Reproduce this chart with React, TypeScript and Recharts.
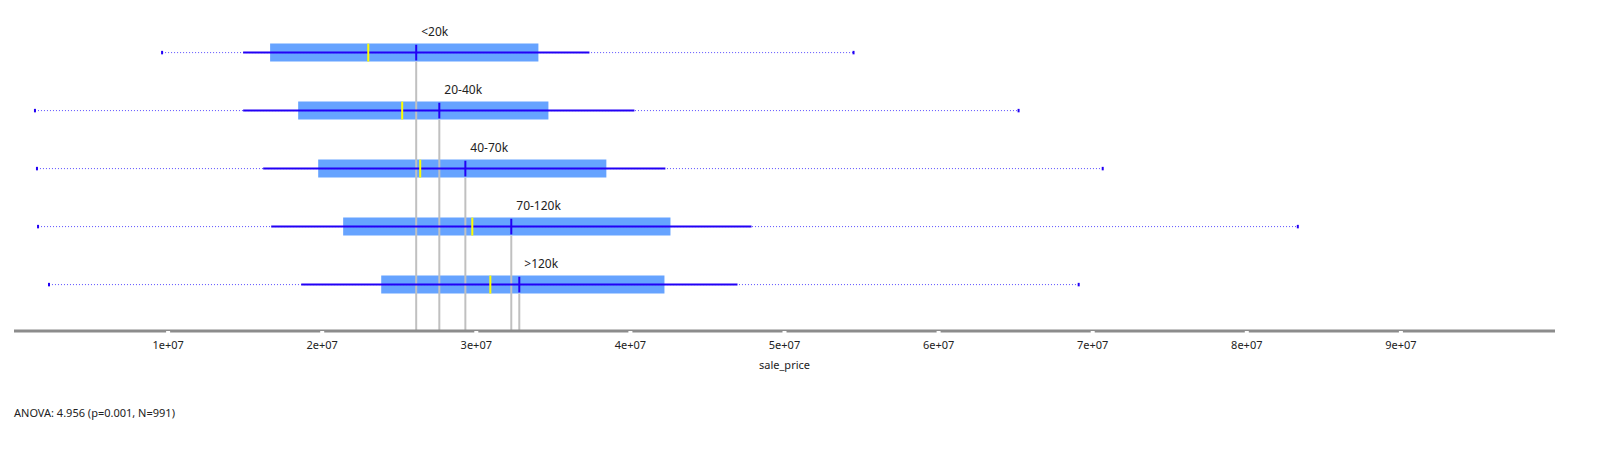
import React from "react";
import {
  ComposedChart,
  XAxis,
  YAxis,
  Scatter,
  ReferenceArea,
  ReferenceLine,
} from "recharts";

const groups = ["<20k", "20-40k", "40-70k", "70-120k", ">120k"];
const rowPos = [4.8, 3.8, 2.8, 1.8, 0.8];
const minVals = [0.961e7, 0.136e7, 0.149e7, 0.156e7, 0.227e7];
const loVals = [1.487e7, 1.487e7, 1.617e7, 1.669e7, 1.864e7];
const q1Vals = [1.662e7, 1.844e7, 1.974e7, 2.136e7, 2.383e7];
const meanVals = [2.299e7, 2.519e7, 2.636e7, 2.974e7, 3.091e7];
const medianVals = [2.61e7, 2.76e7, 2.929e7, 3.227e7, 3.279e7];
const q3Vals = [3.403e7, 3.468e7, 3.844e7, 4.26e7, 4.221e7];
const hiVals = [3.734e7, 4.026e7, 4.227e7, 4.786e7, 4.695e7];
const maxVals = [5.448e7, 6.519e7, 7.065e7, 8.331e7, 6.909e7];
const xTicks = [1e7, 2e7, 3e7, 4e7, 5e7, 6e7, 7e7, 8e7, 9e7];

const labelData = groups.map((g, i) => ({ name: g, median: medianVals[i], row: rowPos[i] }));

const BOX = 0.155;
const fmt = (v: number) => `${v / 1e7}e+07`;

const LabelShape = (props: any) => (
  <text x={props.cx + 5} y={props.cy - 17} fontSize={12} fill="#222" fontFamily="Noto Sans, sans-serif">
    {props.payload.name}
  </text>
);

export default function App() {
  return (
    <div style={{ position: "relative", width: 1607, height: 453 }}>
      <ComposedChart
        width={1607}
        height={460}
        data={labelData}
        margin={{ top: 4, right: 60, bottom: 0, left: 6 }}
      >
        <XAxis
          type="number"
          dataKey="median"
          domain={[0, 1e8]}
          ticks={xTicks}
          tickFormatter={fmt}
          axisLine={{ stroke: "#8c8c8c", strokeWidth: 3 }}
          tickLine={{ stroke: "#ffffff", strokeWidth: 4 }}
          tickSize={2}
          tick={{ fontSize: 11, fill: "#222", fontFamily: "Noto Sans, sans-serif", dy: 6 }}
          height={137}
          label={{ value: "sale_price", position: "insideTop", offset: 30, fontSize: 11, fill: "#222", fontFamily: "Noto Sans, sans-serif" }}
        />
        <YAxis type="number" dataKey="row" domain={[0, 5.5]} hide />
        {groups.map((g, i) => (
          <ReferenceArea
            key={`box-${g}`}
            x1={q1Vals[i]}
            x2={q3Vals[i]}
            y1={rowPos[i] - BOX}
            y2={rowPos[i] + BOX}
            fill="#66a3ff"
            fillOpacity={1}
            stroke="none"
          />
        ))}
        {groups.map((g, i) => (
          <ReferenceLine
            key={`gray-${g}`}
            segment={[{ x: medianVals[i], y: 0 }, { x: medianVals[i], y: rowPos[i] - BOX }]}
            stroke="#c0c0c0"
            strokeWidth={2}
          />
        ))}
        {groups.map((g, i) => (
          <ReferenceLine
            key={`dot-${g}`}
            segment={[{ x: minVals[i], y: rowPos[i] }, { x: maxVals[i], y: rowPos[i] }]}
            stroke="#5a4dff"
            strokeWidth={1}
            strokeDasharray="1 2"
          />
        ))}
        {groups.map((g, i) => (
          <ReferenceLine
            key={`sd-${g}`}
            segment={[{ x: loVals[i], y: rowPos[i] }, { x: hiVals[i], y: rowPos[i] }]}
            stroke="#2200f5"
            strokeWidth={2}
          />
        ))}
        {groups.map((g, i) => (
          <ReferenceLine
            key={`min-${g}`}
            segment={[{ x: minVals[i], y: rowPos[i] - 0.03 }, { x: minVals[i], y: rowPos[i] + 0.03 }]}
            stroke="#2200f5"
            strokeWidth={2}
          />
        ))}
        {groups.map((g, i) => (
          <ReferenceLine
            key={`max-${g}`}
            segment={[{ x: maxVals[i], y: rowPos[i] - 0.03 }, { x: maxVals[i], y: rowPos[i] + 0.03 }]}
            stroke="#2200f5"
            strokeWidth={2}
          />
        ))}
        {groups.map((g, i) => (
          <ReferenceLine
            key={`mean-${g}`}
            segment={[{ x: meanVals[i], y: rowPos[i] - BOX }, { x: meanVals[i], y: rowPos[i] + BOX }]}
            stroke="#ffff00"
            strokeWidth={2}
          />
        ))}
        {groups.map((g, i) => (
          <ReferenceLine
            key={`med-${g}`}
            segment={[{ x: medianVals[i], y: rowPos[i] - 0.135 }, { x: medianVals[i], y: rowPos[i] + 0.135 }]}
            stroke="#2200f5"
            strokeWidth={2}
          />
        ))}
        <Scatter dataKey="row" shape={<LabelShape />} isAnimationActive={false} />
      </ComposedChart>
      <div
        style={{
          position: "absolute",
          left: 6,
          top: 397,
          fontSize: 11,
          color: "#222",
          fontFamily: "Noto Sans, sans-serif",
        }}
      >
        ANOVA: 4.956 (p=0.001, N=991)
      </div>
    </div>
  );
}
